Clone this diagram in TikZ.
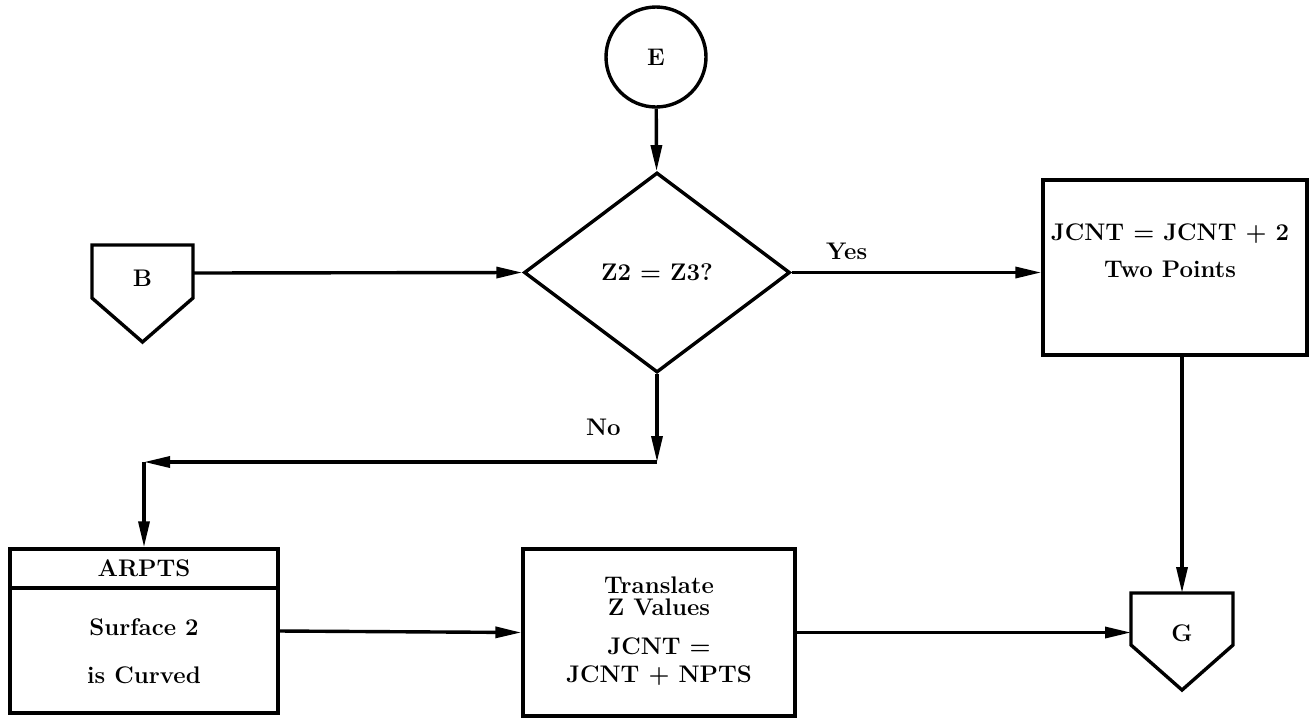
\documentclass[tikz,border=0pt]{standalone}
\usepackage{tikz}
\usetikzlibrary{arrows.meta,shapes.geometric}

\begin{document}
\begin{tikzpicture}[x=0.5pt, y=-0.5pt, line width=1.7pt,
	every node/.style={font=\fontsize{12}{15}\selectfont\bfseries},
	>={Triangle[length=13pt,width=5.5pt]},
	box/.style={draw, rectangle, inner sep=0pt}]
	\useasboundingbox (0,0) rectangle (1309,724);
	% connectors and decision
	\node[circle, draw, minimum size=50pt, inner sep=0pt] (E) at (656,57) {E};
	\node[diamond, draw, minimum width=133pt, minimum height=100pt, inner sep=0pt] (D) at (657,272.5) {Z2 = Z3?};
	\draw (92,245) -- (193,245) -- (193,298) -- (142.5,342) -- (92,298) -- cycle;
	\node (B) at (142.5,278) {B};
	\coordinate (Bout) at (193,273);
	\draw (1131,593) -- (1233,593) -- (1233,645) -- (1182,690) -- (1131,645) -- cycle;
	\node (G) at (1182,633) {G};
	\coordinate (Gtop) at (1182,593);
	\coordinate (Gin) at (1131,630);
	% boxes
	\node[box, minimum width=132pt, minimum height=87.5pt] (J) at (1175,267.5) {};
	\node[align=center] (Jtext) at (1170,251) {JCNT = JCNT + 2\\[3.5pt]Two Points};
	\node[box, minimum width=134pt, minimum height=82pt] (A) at (144,631) {};
	\draw (A.west |- 0,588) -- (A.east |- 0,588);
	\node (Ahead) at (144,568) {ARPTS};
	\node[align=center] (Atext) at (144,651) {Surface 2\\[9pt]is Curved};
	\node[box, minimum width=136pt, minimum height=83.5pt] (T) at (659,632.5) {};
	\node[align=center, font=\fontsize{12}{11}\selectfont\bfseries] (Ttext1) at (659,596) {Translate\\Z Values};
	\node[align=center, font=\fontsize{12}{14}\selectfont\bfseries] (Ttext2) at (659,662) {JCNT =\\JCNT + NPTS};
	% flow
	\draw[->] (E) -- (D);
	\draw[->] (Bout) -- (D.west);
	\draw[->] (D.east) -- (D.east -| J.west) node[pos=0.22, above=2pt] (yes) {Yes};
	\draw[->] (Gtop |- J.south) -- (Gtop);
	\coordinate (Ncorner) at (657,462);
	\draw[->] (D.south) -- (Ncorner) node[pos=0.6, left=14pt] (no) {No};
	\draw[->] (Ncorner) -- (Ncorner -| A.north);
	\draw[->] (Ncorner -| A.north) -- (A.north);
	\draw[->] (A.east) -- (T.west);
	\draw[->] (T.east) -- (T.east -| Gin);
\end{tikzpicture}
\end{document}
